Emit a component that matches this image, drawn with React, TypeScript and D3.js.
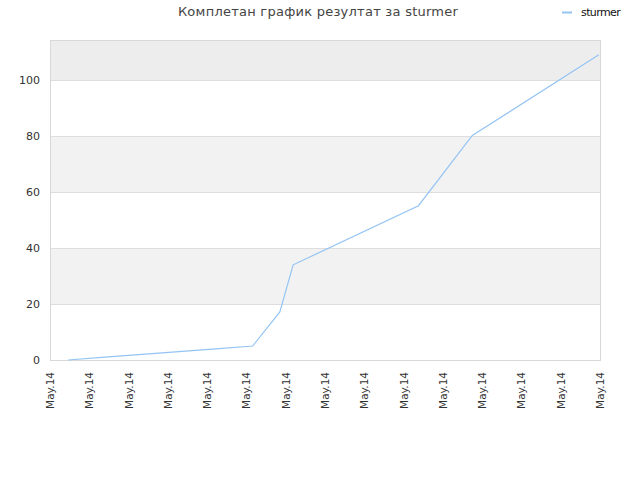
import React, { useEffect, useRef } from 'react'
import * as d3 from 'd3'

// x is measured in tick steps (the axis has 15 ticks, all labelled "May.14")
const pointX = [0.46, 1.4, 2.34, 3.28, 4.22, 5.16, 5.85, 6.19, 9.38, 10.75, 13.97]
const pointY = [0, 1, 2, 3, 4, 5, 17.2, 34, 55.1, 80.2, 109]
const xTicks = d3.range(0, 15)
const xTickLabel = 'May.14'
const yTicks = [0, 20, 40, 60, 80, 100]
const seriesName = 'sturmer'
const title = 'Комплетан график резултат за sturmer'

const width = 640
const height = 480
const margin = { top: 40, right: 40, bottom: 120, left: 50 }

export default function App() {
    const svgRef = useRef<SVGSVGElement | null>(null)

    useEffect(() => {
        const svg = d3.select(svgRef.current)
        svg.selectAll('*').remove()

        const x = d3
            .scaleLinear()
            .domain([0, 14])
            .range([margin.left, width - margin.right])
        const y = d3
            .scaleLinear()
            .domain([0, 114.3])
            .range([height - margin.bottom, margin.top])

        const font = 'DejaVu Sans, sans-serif'

        // alternating bands between the grid lines
        const bands = [...yTicks, 114.3]
        for (let i = 0; i < bands.length - 1; i++) {
            if (i % 2 === 0) continue
            svg.append('rect')
                .attr('x', x(0))
                .attr('width', x(14) - x(0))
                .attr('y', y(bands[i + 1]))
                .attr('height', y(bands[i]) - y(bands[i + 1]))
                .attr('fill', i === bands.length - 2 ? '#ededed' : '#f2f2f2')
        }

        // grid lines
        svg.append('g')
            .selectAll('line')
            .data(yTicks.slice(1))
            .join('line')
            .attr('x1', x(0))
            .attr('x2', x(14))
            .attr('y1', (d) => Math.round(y(d)) + 0.5)
            .attr('y2', (d) => Math.round(y(d)) + 0.5)
            .attr('stroke', '#dedede')

        // frame
        svg.append('rect')
            .attr('x', x(0) + 0.5)
            .attr('y', y(114.3) + 0.5)
            .attr('width', x(14) - x(0))
            .attr('height', y(0) - y(114.3))
            .attr('fill', 'none')
            .attr('stroke', '#d8d8d8')

        // y labels
        svg.append('g')
            .selectAll('text')
            .data(yTicks)
            .join('text')
            .attr('x', x(0) - 10)
            .attr('y', (d) => y(d) + 4)
            .attr('text-anchor', 'end')
            .attr('font-family', font)
            .attr('font-size', 11)
            .attr('fill', '#333')
            .text((d) => d)

        // x labels
        svg.append('g')
            .selectAll('text')
            .data(xTicks)
            .join('text')
            .attr('transform', (d) => `translate(${x(d) + 4},${y(0) + 12}) rotate(-90)`)
            .attr('text-anchor', 'end')
            .attr('font-family', font)
            .attr('font-size', 10.5)
            .attr('fill', '#333')
            .text(xTickLabel)

        // series line
        const line = d3
            .line<number>()
            .x((d) => x(d))
            .y((_, i) => y(pointY[i]))
        svg.append('path')
            .attr('d', line(pointX))
            .attr('fill', 'none')
            .attr('stroke', '#94c4f4')
            .attr('stroke-width', 1.2)

        // title
        svg.append('text')
            .attr('x', 318)
            .attr('y', 16)
            .attr('text-anchor', 'middle')
            .attr('font-family', font)
            .attr('font-size', 13)
            .attr('letter-spacing', 0.25)
            .attr('fill', '#444')
            .text(title)

        // legend
        svg.append('line')
            .attr('x1', 562)
            .attr('x2', 572)
            .attr('y1', 12.5)
            .attr('y2', 12.5)
            .attr('stroke', '#94c4f4')
            .attr('stroke-width', 2)
        svg.append('text')
            .attr('x', 581)
            .attr('y', 16)
            .attr('font-family', font)
            .attr('font-size', 11)
            .attr('letter-spacing', -0.6)
            .attr('fill', '#111')
            .text(seriesName)
    }, [])

    return (
        <svg
            ref={svgRef}
            width={width}
            height={height}
            style={{ position: 'absolute', left: 0, top: 0, background: '#fff' }}
        />
    )
}
